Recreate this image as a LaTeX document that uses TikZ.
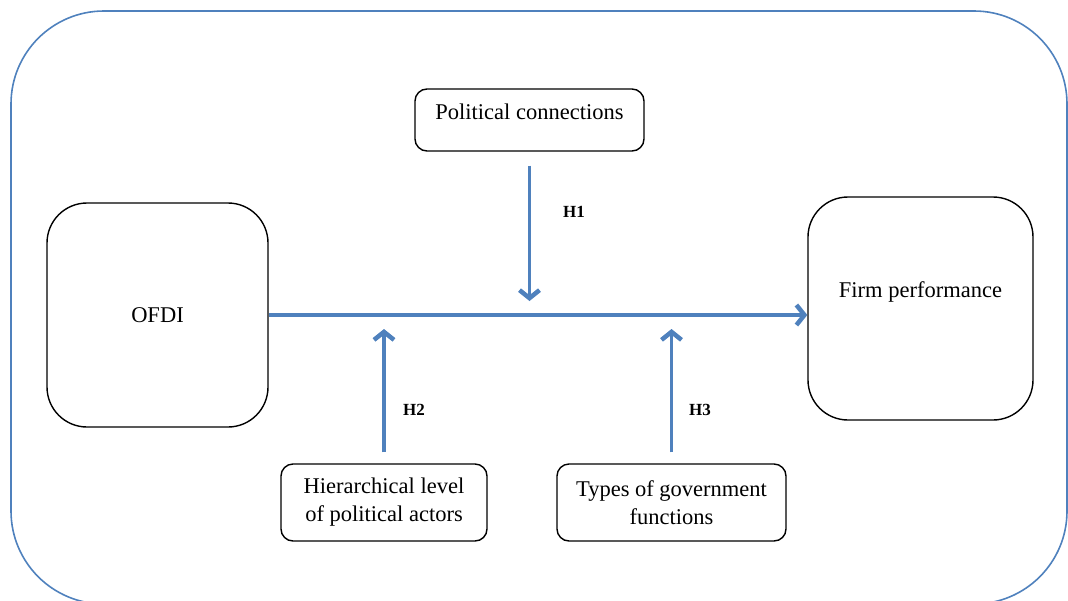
\documentclass[tikz,border=0pt]{standalone}
\usepackage{fontspec}
\setmainfont{Liberation Serif}
\usetikzlibrary{arrows.meta}

\definecolor{frameblue}{RGB}{79,129,189}

\begin{document}
\begin{tikzpicture}[
					x=1pt,y=-1pt,
					font=\fontsize{22.5}{28}\selectfont,
					bigbox/.style={rectangle,draw,line width=1.4pt,rounded corners=40pt,inner sep=0pt},
					smallbox/.style={rectangle,draw,line width=1.4pt,rounded corners=12pt,inner sep=0pt,align=center},
					hyparrow/.style={draw=frameblue,line width=3.5pt,-{Straight Barb[length=8pt,width=20pt,line width=4.5pt]}},
					hyplabel/.style={font=\fontsize{17}{20}\selectfont\bfseries},
					]
					\useasboundingbox (0,0) rectangle (1068,600);
					\draw[frameblue,line width=1.6pt,rounded corners=93pt] (11,11) rectangle (1067,604);
					\node [bigbox,minimum width=221pt,minimum height=224pt] (ofdi) at (157.5,315) {OFDI};
					\node [bigbox,minimum width=225pt,minimum height=223pt,text depth=38pt] (firm) at (920.5,308.5) {Firm performance};
					\node [smallbox,minimum width=229pt,minimum height=62pt,text depth=16pt] (pol) at (529.5,120) {Political connections};
					\node [smallbox,minimum width=206pt,minimum height=77pt] (hier) at (384,502.5) {Hierarchical level\\of political actors};
					\node [smallbox,minimum width=229pt,minimum height=77pt] (types) at (671.5,502.5) {Types of government\\functions};
					\draw[hyparrow] (ofdi.east) -- (ofdi.east -| firm.west);
					\draw[hyparrow,shorten <=14pt,shorten >=14pt] (pol.south) -- (pol.south |- ofdi.east);
					\draw[hyparrow,shorten <=11pt,shorten >=14pt] (hier.north) -- (hier.north |- ofdi.east);
					\draw[hyparrow,shorten <=11pt,shorten >=14pt] (types.north) -- (types.north |- ofdi.east);
					\node [hyplabel] (h1) at (574,212) {H1};
					\node [hyplabel] (h2) at (414,410) {H2};
					\node [hyplabel] (h3) at (700,410) {H3};
				\end{tikzpicture}
\end{document}
